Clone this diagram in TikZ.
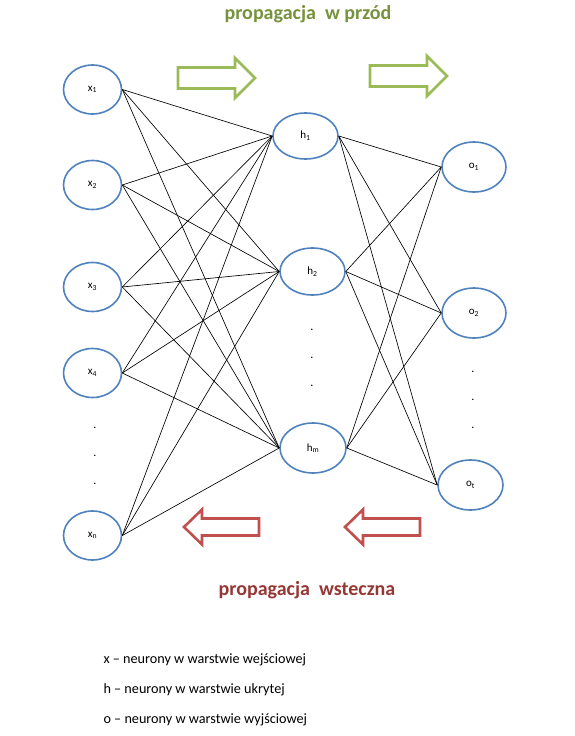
\documentclass[tikz,border=0pt]{standalone}
\usepackage{fontspec}
\setmainfont{Carlito}
\usetikzlibrary{shapes.geometric}

\definecolor{neuronblue}{HTML}{4F81BD}
\definecolor{fwdgreen}{HTML}{9BBB59}
\definecolor{fwdtext}{HTML}{76923C}
\definecolor{bwdred}{HTML}{C0504D}
\definecolor{bwdtext}{HTML}{953735}

\tikzset{
  neuron/.style={ellipse,draw=neuronblue,line width=1.6pt,minimum width=58pt,
    minimum height=49pt,inner sep=0pt,font=\fontsize{11}{13}\selectfont},
  weight/.style={line width=0.65pt,black},
  vdots/.style={font=\fontsize{12}{12}\selectfont,inner sep=0pt},
  legend/.style={anchor=west,font=\fontsize{14.2}{16}\selectfont},
  title/.style={font=\bfseries\fontsize{20}{22}\selectfont},
  pics/fwdarrow/.style={code={
    \draw[fwdgreen,line width=2.6pt,line join=miter,fill=white]
      (0,-10.5) -- (57,-10.5) -- (57,-20) -- (77,0) -- (57,20) -- (57,10.5) -- (0,10.5) -- cycle;}},
  pics/bwdarrow/.style={code={
    \draw[bwdred,line width=2.6pt,line join=miter,fill=white]
      (0,0) -- (18,-17.5) -- (18,-8.5) -- (75,-8.5) -- (75,8.5) -- (18,8.5) -- (18,17.5) -- cycle;}}
}

\begin{document}
\begin{tikzpicture}[x=1pt,y=-1pt]
    \useasboundingbox (0,0) rectangle (575,736);

    % input layer
    \node[neuron] (x1) at (92.5,89.5) {x\textsubscript{1}};
    \node[neuron] (x2) at (92.5,185) {x\textsubscript{2}};
    \node[neuron] (x3) at (92.5,287) {x\textsubscript{3}};
    \node[neuron] (x4) at (92.5,373) {x\textsubscript{4}};
    \node[neuron] (xn) at (92.5,535.5) {x\textsubscript{n}};
    \foreach \y/\n in {428/xd1,456/xd2,484/xd3}
      \node[vdots] (\n) at (95,\y) {.};

    % hidden layer
    \node[neuron,minimum width=65pt,minimum height=46pt] (h1) at (305.5,136) {h\textsubscript{1}};
    \node[neuron,minimum width=65pt,minimum height=47pt] (h2) at (312.5,271.5) {h\textsubscript{2}};
    \node[neuron,minimum width=66pt,minimum height=50pt] (hm) at (313,448) {h\textsubscript{m}};
    \foreach \y/\n in {330/hd1,358/hd2,386/hd3}
      \node[vdots] (\n) at (312,\y) {.};

    % output layer
    \node[neuron,minimum width=64pt,minimum height=50pt] (o1) at (474,167) {o\textsubscript{1}};
    \node[neuron,minimum width=64pt,minimum height=50pt] (o2) at (474,313) {o\textsubscript{2}};
    \node[neuron,minimum width=65pt,minimum height=50pt] (ot) at (470.5,485) {o\textsubscript{t}};
    \foreach \y/\n in {372/od1,400/od2,428/od3}
      \node[vdots] (\n) at (473,\y) {.};

    % weights
    \foreach \i in {x1,x2,x3,x4,xn}
      \foreach \j in {h1,h2,hm}
        \draw[weight] (\i.east) -- (\j.west);
    \foreach \j in {h1,h2,hm}
      \foreach \k in {o1,o2,ot}
        \draw[weight] (\j.east) -- (\k.west);

    % propagation arrows
    \pic at (178,78) {fwdarrow};
    \pic at (370,76) {fwdarrow};
    \pic at (184,527) {bwdarrow};
    \pic at (345,527) {bwdarrow};

    \node[title,text=fwdtext] (fwd) at (308,14) {propagacja\ \ w przód};
    \node[title,text=bwdtext] (bwd) at (307,590) {propagacja\ \ wsteczna};

    % legend
    \node[legend] (lx) at (100,660) {x -- neurony w warstwie wejściowej};
    \node[legend] (lh) at (100,690) {h -- neurony w warstwie ukrytej};
    \node[legend] (lo) at (100,720) {o -- neurony w warstwie wyjściowej};
\end{tikzpicture}
\end{document}
